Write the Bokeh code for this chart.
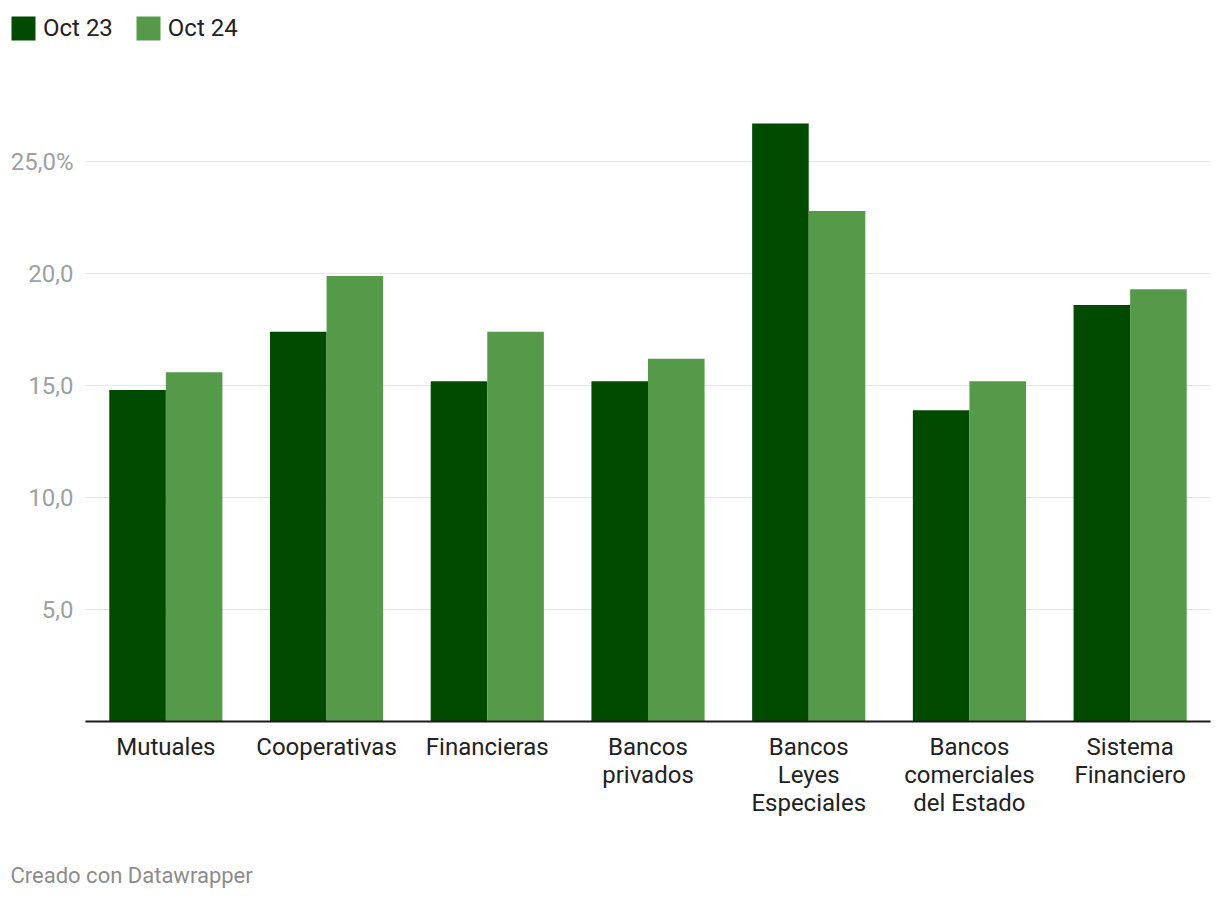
from bokeh.plotting import figure
from bokeh.layouts import column
from bokeh.models import FixedTicker, Legend, LegendItem, Label, Range1d, LinearAxis, ColumnDataSource
from bokeh.transform import dodge
from bokeh.embed import file_html
from bokeh.resources import INLINE

categories = ["Mutuales", "Cooperativas", "Financieras", "Bancos privados",
              "Bancos Leyes Especiales", "Bancos comerciales del Estado", "Sistema Financiero"]
category_lines = [["Mutuales"], ["Cooperativas"], ["Financieras"], ["Bancos", "privados"],
                  ["Bancos", "Leyes", "Especiales"], ["Bancos", "comerciales", "del Estado"],
                  ["Sistema", "Financiero"]]
oct23 = [14.8, 17.4, 15.2, 15.2, 26.7, 13.9, 18.6]
oct24 = [15.6, 19.9, 17.4, 16.2, 22.8, 15.2, 19.3]
series_names = ["Oct 23", "Oct 24"]
y_ticks = [5, 10, 15, 20, 25]
y_tick_labels = ["5,0", "10,0", "15,0", "20,0", "25,0%"]
footer_text = "Creado con Datawrapper"

C1 = "#004b00"
C2 = "#559a48"
FONT = "Roboto"
W = 1220
LEG_H = 94
FOOT_H = 40
MAIN_H = 900 - LEG_H - FOOT_H

# category centres on a numeric scale (one unit per category)
x_pos = [i + 0.5 for i in range(len(categories))]
src = ColumnDataSource(dict(x=x_pos, cat=categories, y1=oct23, y2=oct24))

p = figure(width=W, height=MAIN_H, x_range=Range1d(0, len(categories)), y_range=Range1d(0, 28),
           output_backend="svg", toolbar_location=None,
           min_border_left=85, min_border_right=10, min_border_top=0, min_border_bottom=MAIN_H - 627)
p.frame_align = False
p.outline_line_color = None
p.background_fill_color = "white"
p.border_fill_color = "white"

r1 = p.vbar(x=dodge("x", -0.176), top="y1", width=0.352, source=src, color=C1, line_color=None)
r2 = p.vbar(x=dodge("x", 0.176), top="y2", width=0.352, source=src, color=C2, line_color=None)

p.xgrid.grid_line_color = None
p.ygrid.grid_line_color = "#e6e6e6"
p.ygrid.grid_line_width = 1
p.ygrid.ticker = FixedTicker(ticks=y_ticks)

p.yaxis.ticker = FixedTicker(ticks=y_ticks)
p.yaxis.major_label_overrides = {t: l for t, l in zip(y_ticks, y_tick_labels)}
p.yaxis.axis_line_color = None
p.yaxis.major_tick_line_color = None
p.yaxis.minor_tick_line_color = None
p.yaxis.major_label_text_font = FONT
p.yaxis.major_label_text_font_size = "24px"
p.yaxis.major_label_text_color = "#a0a0a0"
p.yaxis.major_label_standoff = 6


def style_xaxis(ax, line_idx, standoff):
    ax.ticker = FixedTicker(ticks=x_pos)
    ax.major_label_overrides = {x: (ls[line_idx] if len(ls) > line_idx else " ")
                                for x, ls in zip(x_pos, category_lines)}
    ax.major_tick_line_color = None
    ax.minor_tick_line_color = None
    ax.major_label_text_font = FONT
    ax.major_label_text_font_size = "24px"
    ax.major_label_text_color = "#222222"
    ax.major_label_standoff = standoff
    ax.major_label_orientation = "horizontal"


# first line of each category label on the main axis, further lines on stacked axes
xa = p.xaxis[0]
style_xaxis(xa, 0, 5)
xa.axis_line_color = "#1a1a1a"
xa.axis_line_width = 2

for i in (1, 2):
    ax = LinearAxis()
    style_xaxis(ax, i, -9)
    ax.axis_line_color = None
    p.add_layout(ax, "below")

# legend strip above the chart (its bars fall outside its view; only the legend shows)
lf = figure(width=W, height=LEG_H, x_range=Range1d(0, 1), y_range=Range1d(1000, 1001),
            output_backend="svg", toolbar_location=None, x_axis_location=None, y_axis_location=None,
            min_border=0, min_border_left=0, min_border_right=0, min_border_top=0, min_border_bottom=0)
lf.frame_align = False
lf.grid.visible = False
lf.outline_line_color = None
lr1 = lf.vbar(x=dodge("x", -0.176), top="y1", width=0.352, source=src, color=C1, line_color=None)
lr2 = lf.vbar(x=dodge("x", 0.176), top="y2", width=0.352, source=src, color=C2, line_color=None)
legend = Legend(items=[LegendItem(label=series_names[0], renderers=[lr1]),
                       LegendItem(label=series_names[1], renderers=[lr2])],
                orientation="horizontal", location=(8, LEG_H - 43),
                glyph_width=30, glyph_height=30, label_standoff=5, spacing=20,
                padding=0, margin=0, border_line_color=None, background_fill_alpha=0,
                label_text_font=FONT, label_text_font_size="24px", label_text_color="#222222")
lf.add_layout(legend, "center")

# footer strip
ff = figure(width=W, height=FOOT_H, x_range=Range1d(0, 1), y_range=Range1d(0, 1),
            output_backend="svg", toolbar_location=None, x_axis_location=None, y_axis_location=None,
            min_border=0, min_border_left=0, min_border_right=0, min_border_top=0, min_border_bottom=0)
ff.frame_align = False
ff.grid.visible = False
ff.outline_line_color = None
ff.add_layout(Label(x=10, y=FOOT_H - 15, x_units="screen", y_units="screen", text=footer_text,
                    text_font=FONT, text_font_size="22px", text_color="#8c8c8c",
                    text_baseline="middle"))

layout = column(lf, p, ff, spacing=0)
open("out.html", "w").write(file_html(layout, INLINE))
